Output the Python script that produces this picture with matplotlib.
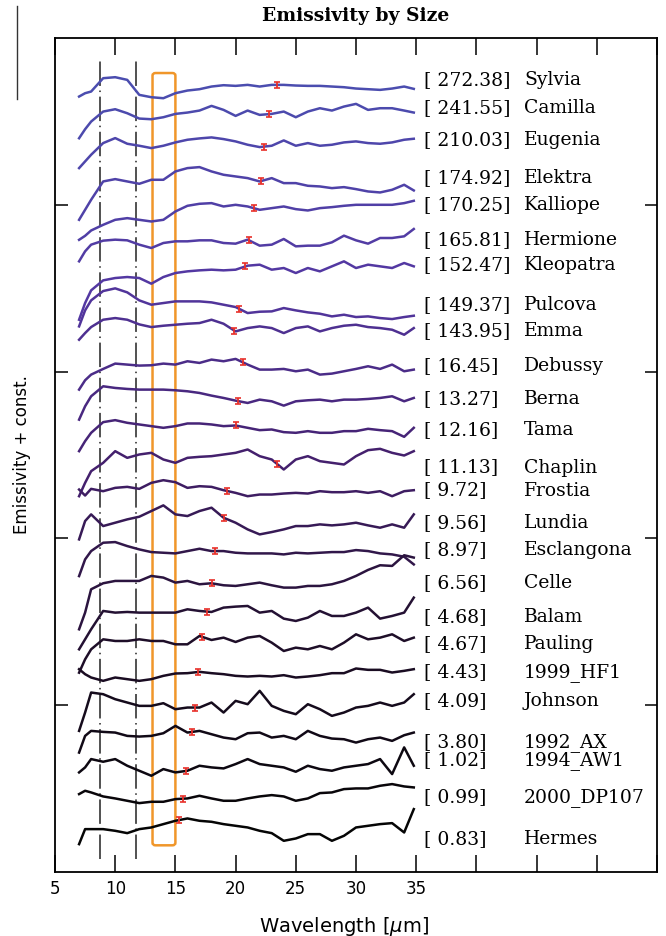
import numpy as np
import matplotlib.pyplot as plt
from matplotlib.colors import LinearSegmentedColormap
from matplotlib.patches import FancyBboxPatch

# === Datos ===
# longitudes de onda (micras) comunes a todos los espectros
WAVELENGTH = [7, 7.5, 8, 9, 10, 11, 12, 13, 14, 15, 16, 17, 18, 19, 20,
              21, 22, 23, 24, 25, 26, 27, 28, 29, 30, 31, 32, 33, 34, 34.8]

NAMES = ["Sylvia", "Camilla", "Eugenia", "Elektra", "Kalliope", "Hermione",
         "Kleopatra", "Pulcova", "Emma", "Debussy", "Berna", "Tama", "Chaplin",
         "Frostia", "Lundia", "Esclangona", "Celle", "Balam", "Pauling",
         "1999_HF1", "Johnson", "1992_AX", "1994_AW1", "2000_DP107", "Hermes"]

SIZES = ["272.38", "241.55", "210.03", "174.92", "170.25", "165.81", "152.47",
         "149.37", "143.95", "16.45", "13.27", "12.16", "11.13", "9.72", "9.56",
         "8.97", "6.56", "4.68", "4.67", "4.43", "4.09", "3.80", "1.02", "0.99",
         "0.83"]

# constante sumada a cada espectro
OFFSETS = [4.689, 4.549, 4.370, 4.130, 3.970, 3.771, 3.591, 3.391, 3.271,
           3.032, 2.872, 2.653, 2.483, 2.293, 2.094, 1.924, 1.735, 1.555,
           1.385, 1.186, 0.996, 0.826, 0.627, 0.457, 0.257]

# altura de cada etiqueta
LABEL_Y = [4.754, 4.587, 4.395, 4.168, 4.006, 3.796, 3.647, 3.407, 3.251,
           3.042, 2.844, 2.653, 2.431, 2.293, 2.096, 1.934, 1.737, 1.533,
           1.371, 1.204, 1.030, 0.784, 0.677, 0.455, 0.204]

# posición de la barra de error roja
ERR_WL = [23.4, 22.8, 22.4, 22.15, 21.5, 21.1, 20.8, 20.3, 19.9, 20.6, 20.2,
          20.0, 23.4, 19.3, 19.0, 18.3, 18.0, 17.6, 17.2, 16.9, 16.6, 16.4,
          15.9, 15.6, 15.3]

# variación de emisividad (%) de cada espectro
SYLVIA = [-4, -2, -1, 7, 7.6, 6, -3, -4.4, -5, -2, -0.4, 0.4, 2, 2.8, 2.4,
          3, 2, 3, 3, 2.6, 2.4, 2.4, 2, 1.6, 0.8, 0.4, 0, 0.8, 2, 0.6]
CAMILLA = [-15, -9.6, -5, 1, 2.4, 0, -3.2, -3.6, -2.4, -0.4, 0.4, 1.6, 4.4, 2,
           -1.6, 1.6, -1, -0.4, 1, -2.4, 1, 3, 1.6, 4, 5.6, 2, 3, 3, 1.6, 0.4]
EUGENIA = [-15, -11, -7, 0, 3, -0.4, -1.6, -3, -1.6, 0.4, 2, 2.8, 3.4, 2.4, 1,
           -1, -2.4, -1.6, 1.6, -1.6, 0, -1.6, -1, 0.4, 1, 0, -0.4, 0.4, 2, 2.6]
ELEKTRA = [-22, -16, -10, 1, 2.4, 1, -0.4, 2, 2, 7, 9, 9.6, 7, 5, 4,
           3, 1, 3, 0, 0, -1.6, -2, -3, -2.4, -3.6, -5, -5.6, -4, -1, -4.4]
KALLIOPE = [-18, -15.6, -12.4, -9, -6, -5, -6, -7, -6, -1, 2.4, 3.6, 4, 2, 3,
            2, 0, 1, 2, 0.4, -0.4, 1, 1.6, 2.4, 3, 3, 3, 3, 4, 5.4]
HERMIONE = [-11, -5, -1, 1.4, 2, 1.6, -1, -3, 0, 1, 1, 1.6, 1.6, 0, -0.4,
            2, -1.6, -1, 2.4, -2, -1.6, -1.6, 0.4, 4.4, 1.6, -0.4, 3, 3, 4, 8.4]
KLEOPATRA = [-28, -18, -10.4, -4.4, -3, -2.4, -3, -6.4, -2.4, 0, 1, 1.6, 2, 1.6, 2,
             4.4, 5, 2, 3, 0, 3, 1, 4, 7, 3, 5, 4, 3, 6, 4]
PULCOVA = [-12, -2.4, 3.6, 9.2, 10.8, 8.4, 3.6, 1, 2, 3, 3, 3, 2.4, 1, -0.4,
           -4, -3.2, -3, -1, -2.4, -3.6, -4.4, -6, -5, -6.4, -6, -7, -7.6, -6.4, -5.6]
EMMA = [-8, -4, -0.4, 4, 5, 4, 1.2, -0.4, 0.4, 1, 1.6, 2, 4, 1.6, -3,
        -1, 0, -1, -4, -1, 0, -3, -1, 0.4, 1, -0.4, -1, -2, -5, -1]
DEBUSSY = [-14, -8.4, -5, -1.6, 1.6, 1, 0.4, 0.6, 1.6, 1, 3, 2, 4, 3, 4.4,
           1, -2, -2, -1.6, -3, -2, -5, -4.4, -3, -1.6, 0, -1.6, 1, -3, -2]
BERNA = [-16, -8, -2, 4, 3, 2.4, 2, 2, 2, 1.6, 1, 0, -1.6, -3, -4.6,
         -6, -4, -5, -7.6, -5, -4.4, -4, -5, -4, -4, -3.6, -3, -2, -5, -3]
TAMA = [-13, -7, -2, 4.4, 5.6, 4, 3, 2, 1, 2, 3.6, 3.6, 3, 2, 2.4,
        1, -0.4, 0, -1.6, -2, -1, -2, -2, -1, -1, 0.4, -0.4, -1, -4.4, 1]
CHAPLIN = [-23, -15, -8, -3, 4, 0, 2, 3, -1, -3, 0, 0.6, 1, 2, 3,
           5, 1, -1, -7, -1, 1, -2, -3, -4, 1, 4.6, 5.4, 3, 1.4, 4]
FROSTIA = [0, -3.6, 0.4, -1, 1, 1.6, 0.4, 4, 5.6, 4.4, 1, 2, 1.6, -0.4, -2,
           -4, -3, -3, -2.4, -2, -2.4, -1, -1.6, -1.6, -1, -2, -1, -4, -1, -0.4]
LUNDIA = [-10, 1, 5, -2, 0, 2, 3.6, 7, 10.4, 5, 4, 7, 9, 3, 0,
          -4, -7, -5.6, -4, -2, -2, -1, -1.6, -1, 0, -1.6, -3, -1, -3, 5]
ESCLANGONA = [-15, -5, 0, 5, 5.4, 3, 1, -0.6, -1, -1.4, 0, 1.4, 0, 0, -1,
              -1.4, -1.4, -1.4, -2, -1, -1.4, -1, -0.6, -0.6, 0.6, 0, -1.4, -2, -3.4, -8]
CELLE = [-28, -18, -4, -0.4, 1, 1, 1, 4, 3, 0, 1, -1, -0.4, -1.6, -2,
         -1, 0, -1.6, -3, -3, -2, -2, -1, 1, 4, 7.6, 10.4, 10, 16.4, 15]
BALAM = [-22, -16, -10, 1, 0, 0.4, 0, 0, 0, 0, 2, 1, 0.4, 3, 3.6,
         4, 0, 1, -3.6, -5, -3, 1, -2, -2, 0, 3, -3.6, -2, 0, 9]
PAULING = [-19, -11, -5, 1, 0, 0, 1, 0, 0, -2, -2, 3, 0.6, 2, -0.6,
           2, 3, -1, -6, -4, -5, -3, -5, -1, 4, 1, 2, 4, 0, 2]
HF1_1999 = [3, 0, -2, -4, -2, -3, -4, -3, -1, 0.4, 0.6, 1.4, 0.6, 0, -1,
            -1.4, -1, -1.4, -0.6, -2, -1.4, -0.6, 0.6, 0.6, 3.4, 2.6, 2.6, 1, 2, 3]
JOHNSON = [-15, -4, 8, 7, 4, 2, 0, 0, 1.6, -2, -1, -1, 2, -4, 3,
           1, 9, 0, -3, -5, 1, -2, -6, -4, -1, 0, 2, 0, 2, 7]
AX_1992 = [-11, -1, 2, 1.4, 1, -1, -1.4, -1, 0.6, 5, 1, 2, 0, -2, -3,
           0.6, 1, -2, -1, -3, 2, -1, -2.6, -3, -5, -3, -2, -4, -0.6, 1]
AW1_1994 = [-3, 0, 5, 3.4, 5, 1, -2, -5, -1, -3, -2, 1, 0, -0.6, 2,
            5, 2, 1, 0, -2.6, 1, -1, -2, 0, 1, 2, 5, -4, 12, 1]
DP107_2000 = [1, 3, 2, -0.4, -1.6, -3, -4.4, -3.6, -3.6, -2, -1.6, 0, -1.6, -3, -3,
              -1.6, -0.4, 0.4, -0.4, -3, -1.6, 1.6, 2, 4, 4.4, 4.4, 6, 7, 5.6, 5]
HERMES = [-9, 0, 0, 0, -1, -2.4, 0, 1, 3, 5, 6.4, 5, 4.4, 3, 2,
          1, -1, -2.4, -7, -5.6, -3, -3, -7, -4, 1, 2, 3, 3.6, -2, 12]

SPECTRA = [SYLVIA, CAMILLA, EUGENIA, ELEKTRA, KALLIOPE, HERMIONE, KLEOPATRA,
           PULCOVA, EMMA, DEBUSSY, BERNA, TAMA, CHAPLIN, FROSTIA, LUNDIA,
           ESCLANGONA, CELLE, BALAM, PAULING, HF1_1999, JOHNSON, AX_1992,
           AW1_1994, DP107_2000, HERMES]

# rasgos marcados en la figura
FEATURE_WL = [8.72, 11.72]
BAND_WL = (13.1, 15.0)

# === Figura ===
fig = plt.figure(figsize=(6.66, 9.37), dpi=100)
ax = fig.add_axes([55 / 666, 1 - 873 / 937, 602 / 666, 834 / 937])

cmap = LinearSegmentedColormap.from_list(
    "espectros", ["#4B4DAF", "#5338A2", "#44206E", "#1E0E28", "#050505"])

wl = np.array(WAVELENGTH)
n = len(SPECTRA)
for k, spec in enumerate(SPECTRA):
    y = OFFSETS[k] + np.array(spec) / 100.0
    ax.plot(wl, y, color=cmap(k / (n - 1)), lw=1.8, zorder=3)
    ye = np.interp(ERR_WL[k], wl, y)
    ax.errorbar([ERR_WL[k]], [ye], yerr=0.018, fmt="none", ecolor="#E8302A",
                elinewidth=1.3, capsize=2, capthick=1.2, zorder=4)
    ax.text(35.67, LABEL_Y[k], "[ " + SIZES[k] + "]", family="DejaVu Serif",
            fontsize=13.5, va="center", ha="left")
    ax.text(43.95, LABEL_Y[k], NAMES[k], family="DejaVu Serif",
            fontsize=13.5, va="center", ha="left")

ax.vlines(FEATURE_WL, 0.08, 4.86, colors="#222222", lw=1.1,
          linestyles=[(0, (16, 3, 1, 3))], zorder=2)
band = FancyBboxPatch((BAND_WL[0], 0.16), BAND_WL[1] - BAND_WL[0], 4.63,
                      boxstyle="round,pad=0,rounding_size=0.25",
                      fill=False, ec="#F0962A", lw=1.8, zorder=2,
                      mutation_aspect=0.06)
ax.add_patch(band)

ax.set_xlim(5, 55)
ax.set_ylim(0, 5)
ticks = [5, 10, 15, 20, 25, 30, 35, 40, 45, 50, 55]
ax.set_xticks(ticks)
ax.set_xticklabels([str(t) if t <= 35 else "" for t in ticks])
ax.set_yticks([1, 2, 3, 4])
ax.set_yticklabels([])
ax.tick_params(axis="x", direction="in", length=12, width=1.1, top=True,
               labelsize=12, pad=5)
ax.tick_params(axis="y", direction="in", length=9, width=1.1, right=True)
for s in ax.spines.values():
    s.set_linewidth(1.3)

# línea suelta en el borde superior izquierdo del original
fig.add_artist(plt.Line2D([17 / 666, 17 / 666], [1 - 7 / 937, 1 - 100 / 937],
                          color="#333333", lw=1.0))

fig.text(356 / 666, 1 - 16 / 937, "Emissivity by Size", family="DejaVu Serif",
         fontweight="bold", fontsize=13.5, ha="center", va="center")
fig.text(344 / 666, 1 - 927 / 937, "Wavelength [$\\mu$m]", fontsize=14,
         ha="center", va="center")
fig.text(22 / 666, 1 - 455 / 937, "Emissivity + const.", fontsize=12,
         rotation=90, ha="center", va="center")

fig.savefig("out.png", dpi=100)
